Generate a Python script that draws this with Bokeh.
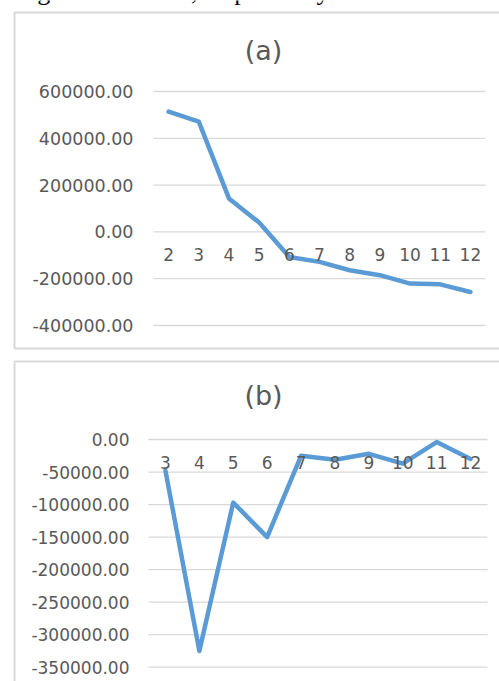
from bokeh.plotting import figure
from bokeh.models import Range1d, FixedTicker, PrintfTickFormatter
from bokeh.core.properties import value
from bokeh.layouts import column
from bokeh.embed import file_html
from bokeh.resources import INLINE

# ---- data ----
cats_a = [2, 3, 4, 5, 6, 7, 8, 9, 10, 11, 12]
vals_a = [514000, 471000, 143000, 40000, -107000, -128000, -164000, -185000, -221000, -224000, -257000]
ticks_a = [-400000, -200000, 0, 200000, 400000, 600000]

cats_b = [3, 4, 5, 6, 7, 8, 9, 10, 11, 12]
vals_b = [-48000, -325000, -97000, -150000, -25000, -31000, -22000, -37000, -4000, -30000]
ticks_b = [-350000, -300000, -250000, -200000, -150000, -100000, -50000, 0]

caption = "Figure 3a and 3b, respectively."
title_a = "(a)"
title_b = "(b)"

W = 499
TXT = "#595959"
GRID = "#d9d9d9"
BLUE = "#5b9bd5"
FONT = "DejaVu Sans"


def panel(cats, vals, ticks, H, box, border, ysize, ystand, title, title_base):
    # box = (plot_left, plot_right, plot_top, plot_bottom) in canvas pixels
    pl, pr, pt, pb = box
    bt, bb = border
    xlo, xhi = cats[0] - 0.5, cats[-1] + 0.5
    ylo, yhi = min(ticks), max(ticks)
    ux = (xhi - xlo) / (pr - pl)
    uy = (yhi - ylo) / (pb - pt)
    xs, xe = xlo - pl * ux, xhi + (W - pr) * ux
    ye, ys = yhi + pt * uy, ylo - (H - pb) * uy

    def cx(px):
        return xs + px * ux

    def cy(py):
        return ye - py * uy

    p = figure(width=W, height=H, x_range=Range1d(xs, xe), y_range=Range1d(ys, ye),
               output_backend="svg", toolbar_location=None,
               min_border_left=0, min_border_right=0,
               min_border_top=0, min_border_bottom=0)
    p.outline_line_color = None
    p.background_fill_color = "white"
    p.border_fill_color = "white"
    p.xgrid.grid_line_color = None
    p.ygrid.grid_line_color = None

    p.yaxis.ticker = FixedTicker(ticks=ticks)
    p.yaxis.formatter = PrintfTickFormatter(format="%.2f")
    p.xaxis.ticker = FixedTicker(ticks=cats)
    for ax in (p.xaxis[0], p.yaxis[0]):
        ax.axis_line_color = None
        ax.major_tick_line_color = None
        ax.minor_tick_line_color = None
        ax.major_tick_out = 0
        ax.major_tick_in = 0
        ax.major_label_text_font = FONT
        ax.major_label_text_color = TXT
    p.yaxis.major_label_text_font_size = ysize
    p.yaxis.major_label_standoff = ystand
    p.yaxis.fixed_location = xlo
    p.xaxis.major_label_text_font_size = "17px"
    p.xaxis.major_label_standoff = 16
    p.xaxis.fixed_location = 0

    # chart-area border
    p.quad(left=[cx(14)], right=[cx(W + 20)], top=[cy(bt)], bottom=[cy(bb)],
           fill_color=None, line_color=GRID, line_width=2)

    # horizontal gridlines at the tick values, spanning the plot area
    p.segment(x0=[xlo] * len(ticks), x1=[xhi] * len(ticks), y0=ticks, y1=ticks,
              line_color=GRID, line_width=1.3)

    p.line(x=cats, y=vals, line_color=BLUE, line_width=4.5,
           line_join="round", line_cap="round")

    p.text(x=[cx(263)], y=[cy(title_base)], text=[title], text_align="center",
           text_baseline="alphabetic", text_font=value(FONT),
           text_font_size="27px", text_color=TXT)
    return p, cx, cy


pa, cxa, cya = panel(cats_a, vals_a, ticks_a, 354, (153, 485, 91, 325), (12, 348),
                     "17.5px", 20, title_a, 50)
pa.text(x=[cxa(15)], y=[cya(-9)], text=[caption], text_align="left",
        text_baseline="alphabetic", text_font=value("Liberation Serif"),
        text_font_size="26px", text_color="black")

pb, cxb, cyb = panel(cats_b, vals_b, ticks_b, 327, (148, 487, 85, 312.7), (7, 400),
                     "17px", 19, title_b, 41)

layout = column(pa, pb, spacing=0)
open("out.html", "w").write(file_html(layout, INLINE))
